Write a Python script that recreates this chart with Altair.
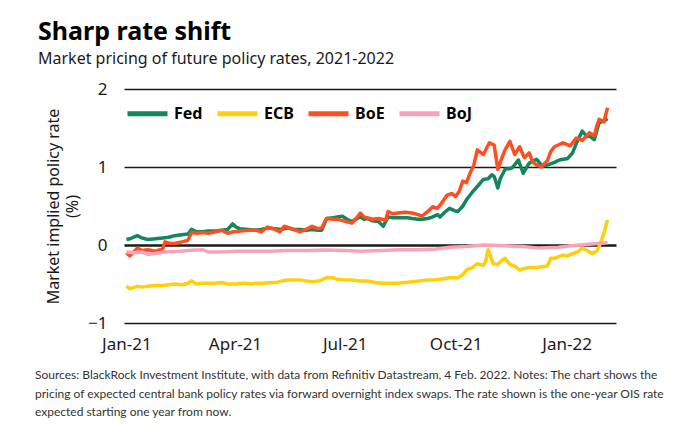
import altair as alt
import pandas as pd

# ---------------- data ----------------
fed_dates = ["2021-01-01","2021-01-04","2021-01-10","2021-01-14","2021-01-19","2021-01-25","2021-01-31",
             "2021-02-05","2021-02-10","2021-02-16","2021-02-21","2021-02-24","2021-02-28","2021-03-05",
             "2021-03-10","2021-03-16","2021-03-21","2021-03-26","2021-03-30","2021-04-02","2021-04-05",
             "2021-04-12","2021-04-18","2021-04-23","2021-04-28","2021-05-04","2021-05-10","2021-05-15",
             "2021-05-19","2021-05-25","2021-05-30","2021-06-04","2021-06-09","2021-06-12","2021-06-16",
             "2021-06-21","2021-06-25","2021-06-29","2021-07-03","2021-07-07","2021-07-10","2021-07-14",
             "2021-07-17","2021-07-20","2021-07-24","2021-07-29","2021-08-02","2021-08-06","2021-08-10",
             "2021-08-14","2021-08-18","2021-08-22","2021-08-26","2021-08-31","2021-09-03","2021-09-08",
             "2021-09-12","2021-09-16","2021-09-18","2021-09-22","2021-09-26","2021-09-30","2021-10-03",
             "2021-10-07","2021-10-10","2021-10-15","2021-10-19","2021-10-24","2021-10-28","2021-10-31",
             "2021-11-02","2021-11-05","2021-11-07","2021-11-11","2021-11-15","2021-11-17","2021-11-22",
             "2021-11-23","2021-11-26","2021-12-01","2021-12-07","2021-12-12","2021-12-17","2021-12-22",
             "2021-12-26","2022-01-02","2022-01-06","2022-01-09","2022-01-14","2022-01-18","2022-01-20",
             "2022-01-24","2022-01-28","2022-02-01","2022-02-04"]
fed_values = [0.07,0.08,0.12,0.09,0.07,0.08,0.09,
              0.10,0.12,0.13,0.14,0.20,0.17,0.17,
              0.18,0.18,0.19,0.20,0.27,0.23,0.21,
              0.20,0.19,0.20,0.22,0.21,0.20,0.22,
              0.20,0.20,0.19,0.20,0.19,0.19,0.34,
              0.35,0.36,0.37,0.33,0.30,0.33,0.36,
              0.33,0.34,0.31,0.30,0.24,0.36,0.35,
              0.35,0.35,0.35,0.34,0.33,0.33,0.34,
              0.36,0.39,0.36,0.42,0.47,0.44,0.43,
              0.50,0.58,0.68,0.75,0.84,0.85,0.90,
              0.88,0.73,0.85,0.97,0.98,0.99,1.09,
              1.05,0.92,1.05,1.10,1.01,1.03,1.06,
              1.09,1.11,1.18,1.30,1.46,1.39,1.40,
              1.35,1.57,1.59,1.62]

ecb_dates = ["2021-01-01","2021-01-04","2021-01-10","2021-01-14","2021-01-19","2021-01-25","2021-01-31",
             "2021-02-05","2021-02-10","2021-02-16","2021-02-21","2021-02-24","2021-02-28","2021-03-05",
             "2021-03-10","2021-03-16","2021-03-21","2021-03-26","2021-04-02","2021-04-08","2021-04-14",
             "2021-04-18","2021-04-25","2021-05-01","2021-05-06","2021-05-10","2021-05-15","2021-05-20",
             "2021-05-25","2021-05-30","2021-06-04","2021-06-10","2021-06-16","2021-06-21","2021-06-25",
             "2021-07-01","2021-07-07","2021-07-12","2021-07-20","2021-07-26","2021-08-02","2021-08-08",
             "2021-08-14","2021-08-20","2021-08-26","2021-09-01","2021-09-08","2021-09-14","2021-09-18",
             "2021-09-22","2021-09-26","2021-10-03","2021-10-07","2021-10-10","2021-10-15","2021-10-19",
             "2021-10-24","2021-10-26","2021-10-28","2021-11-01","2021-11-05","2021-11-08","2021-11-11",
             "2021-11-15","2021-11-19","2021-11-23","2021-11-27","2021-12-01","2021-12-07","2021-12-11",
             "2021-12-16","2021-12-19","2021-12-22","2021-12-29","2022-01-02","2022-01-06","2022-01-10",
             "2022-01-14","2022-01-18","2022-01-22","2022-01-26","2022-01-28","2022-02-01","2022-02-04"]
ecb_values = [-0.53,-0.56,-0.53,-0.54,-0.53,-0.52,-0.52,
              -0.51,-0.50,-0.51,-0.49,-0.46,-0.50,-0.49,
              -0.49,-0.49,-0.48,-0.50,-0.50,-0.49,-0.50,
              -0.49,-0.49,-0.48,-0.48,-0.46,-0.45,-0.45,
              -0.45,-0.46,-0.47,-0.46,-0.42,-0.42,-0.44,
              -0.45,-0.45,-0.46,-0.46,-0.48,-0.49,-0.49,
              -0.49,-0.48,-0.47,-0.46,-0.45,-0.45,-0.44,
              -0.43,-0.42,-0.42,-0.38,-0.32,-0.29,-0.24,
              -0.26,-0.20,-0.06,-0.24,-0.25,-0.20,-0.17,
              -0.25,-0.27,-0.32,-0.30,-0.29,-0.29,-0.28,
              -0.27,-0.17,-0.17,-0.13,-0.14,-0.11,-0.09,
              -0.04,-0.07,-0.11,-0.08,-0.02,0.15,0.32]

boe_dates = ["2021-01-01","2021-01-04","2021-01-10","2021-01-14","2021-01-19","2021-01-25","2021-01-31",
             "2021-02-02","2021-02-06","2021-02-10","2021-02-16","2021-02-21","2021-02-24","2021-03-01",
             "2021-03-05","2021-03-10","2021-03-16","2021-03-21","2021-03-26","2021-03-31","2021-04-06",
             "2021-04-12","2021-04-18","2021-04-23","2021-04-28","2021-05-04","2021-05-08","2021-05-12",
             "2021-05-18","2021-05-25","2021-05-30","2021-06-04","2021-06-09","2021-06-12","2021-06-16",
             "2021-06-21","2021-06-25","2021-06-30","2021-07-07","2021-07-10","2021-07-14","2021-07-17",
             "2021-07-24","2021-07-29","2021-08-04","2021-08-06","2021-08-10","2021-08-14","2021-08-20",
             "2021-08-26","2021-08-31","2021-09-03","2021-09-08","2021-09-12","2021-09-16","2021-09-20",
             "2021-09-24","2021-09-28","2021-10-01","2021-10-04","2021-10-07","2021-10-10","2021-10-13",
             "2021-10-16","2021-10-19","2021-10-24","2021-10-27","2021-10-29","2021-11-02","2021-11-05",
             "2021-11-08","2021-11-11","2021-11-15","2021-11-19","2021-11-23","2021-11-27","2021-12-01",
             "2021-12-04","2021-12-07","2021-12-11","2021-12-16","2021-12-19","2021-12-22","2021-12-29",
             "2022-01-04","2022-01-09","2022-01-14","2022-01-20","2022-01-24","2022-01-26","2022-01-28",
             "2022-02-01","2022-02-04"]
boe_values = [-0.10,-0.14,-0.04,-0.07,-0.06,-0.08,-0.05,
              0.04,0.02,0.02,0.04,0.06,0.16,0.15,
              0.16,0.15,0.17,0.19,0.15,0.17,0.18,
              0.19,0.19,0.17,0.23,0.20,0.17,0.24,
              0.21,0.17,0.20,0.24,0.21,0.22,0.34,
              0.33,0.33,0.31,0.28,0.33,0.41,0.36,
              0.33,0.34,0.32,0.43,0.40,0.41,0.42,
              0.41,0.39,0.37,0.43,0.49,0.47,0.55,
              0.64,0.66,0.62,0.69,0.82,0.80,0.92,
              1.02,1.22,1.16,1.25,1.31,1.28,0.97,
              1.10,1.22,1.33,1.16,1.26,1.12,1.18,
              1.06,1.03,1.00,1.08,1.20,1.26,1.31,
              1.27,1.37,1.34,1.44,1.40,1.52,1.61,
              1.58,1.76]

boj_dates = ["2021-01-01","2021-01-07","2021-01-14","2021-01-19","2021-01-25","2021-02-02","2021-02-14",
             "2021-02-21","2021-03-05","2021-03-10","2021-03-20","2021-04-02","2021-04-15","2021-05-01",
             "2021-05-15","2021-06-01","2021-06-15","2021-07-01","2021-07-14","2021-08-01","2021-08-14",
             "2021-09-01","2021-09-15","2021-09-26","2021-10-10","2021-10-25","2021-11-10","2021-11-25",
             "2021-12-10","2021-12-25","2022-01-05","2022-01-20","2022-02-04"]
boj_values = [-0.09,-0.10,-0.09,-0.12,-0.11,-0.09,-0.08,
              -0.07,-0.06,-0.09,-0.09,-0.08,-0.08,-0.08,
              -0.07,-0.07,-0.065,-0.07,-0.08,-0.07,-0.06,
              -0.06,-0.05,-0.03,-0.02,0.00,-0.01,-0.02,
              -0.04,-0.03,-0.01,0.01,0.03]

banks = ["Fed", "ECB", "BoE", "BoJ"]
bank_colors = ["#12875c", "#ffcf0a", "#ff4e1f", "#f9a3b8"]

y_ticks = [-1, 0, 1, 2]
x_tick_dates = [(2021, 1), (2021, 4), (2021, 7), (2021, 10), (2022, 1)]

title_text = "Sharp rate shift"
subtitle_text = "Market pricing of future policy rates, 2021-2022"
y_title = ["Market implied policy rate", "(%)"]
footnote = [
    "Sources: BlackRock Investment Institute, with data from Refinitiv Datastream, 4 Feb. 2022. Notes: The chart shows the",
    "pricing of expected central bank policy rates via forward overnight index swaps. The rate shown is the one-year OIS rate",
    "expected starting one year from now.",
]

# ---------------- build table ----------------
series = [(banks[0], fed_dates, fed_values), (banks[1], ecb_dates, ecb_values),
          (banks[2], boe_dates, boe_values), (banks[3], boj_dates, boj_values)]
frames = []
for name, d, v in series:
    assert len(d) == len(v), name
    frames.append(pd.DataFrame({"date": d, "rate": v, "bank": name}))
df = pd.concat(frames, ignore_index=True)

FONT = "Noto Sans"

x_enc = alt.X(
    "date:T",
    scale=alt.Scale(domain=[alt.DateTime(year=2020, month=12, date=30),
                            alt.DateTime(year=2022, month=2, date=11)]),
    axis=alt.Axis(
        title=None, format="%b-%y", grid=False, domain=False, ticks=False,
        values=[alt.DateTime(year=yy, month=mm, date=1) for yy, mm in x_tick_dates],
        labelFont=FONT, labelFontSize=17, labelColor="#1a1a1a", labelPadding=13,
        labelFlush=False,
    ),
)

y_enc = alt.Y(
    "rate:Q",
    scale=alt.Scale(domain=[-1, 2], nice=False, zero=False),
    axis=alt.Axis(
        title=y_title, values=y_ticks, format="d", domain=False, ticks=False,
        grid=True, gridColor="#1a1a1a",
        gridWidth=alt.condition("datum.value == 0", alt.value(2.6), alt.value(1.3)),
        labelFont=FONT, labelFontSize=17, labelColor="#1a1a1a", labelPadding=17,
        titleFont=FONT, titleFontSize=16, titleFontWeight="normal", titleColor="#1a1a1a",
        titleAngle=270, titleX=-71, titleY=117, titleAlign="center", titleBaseline="middle",
        titleLineHeight=19,
    ),
)

lines = alt.Chart(df).mark_line(strokeWidth=3.5, strokeJoin="round").encode(
    x=x_enc,
    y=y_enc,
    color=alt.Color(
        "bank:N",
        scale=alt.Scale(domain=banks, range=bank_colors),
        legend=alt.Legend(
            title=None, orient="none", legendX=1, legendY=2, direction="horizontal",
            symbolType="stroke", symbolSize=1600, symbolStrokeWidth=5,
            labelFont=FONT, labelFontSize=16, labelFontWeight="bold", labelColor="#000",
            labelOffset=4, columnPadding=4,
        ),
    ),
    detail="bank:N",
)

foot = alt.Chart(pd.DataFrame({"k": [0]})).mark_text(
    text=footnote, align="left", baseline="alphabetic", font="Lato",
    fontSize=12, lineHeight=18.5, color="#333333",
).encode(x=alt.value(-89), y=alt.value(290))

chart = alt.layer(lines, foot).properties(
    width=492,
    height=234,
    autosize=alt.AutoSizeParams(type="none"),
    padding={"left": 116, "top": 81, "right": 70, "bottom": 100},
    title=alt.TitleParams(
        text=title_text, subtitle=subtitle_text, anchor="start", frame="group",
        dx=-86, offset=13, font=FONT, fontSize=25, fontWeight="bold", color="#000",
        subtitleFont=FONT, subtitleFontSize=16, subtitleColor="#1a1a1a", subtitlePadding=6,
    ),
).configure_view(stroke=None)

chart.save("out.html", embed_options={"renderer": "svg", "actions": False})
